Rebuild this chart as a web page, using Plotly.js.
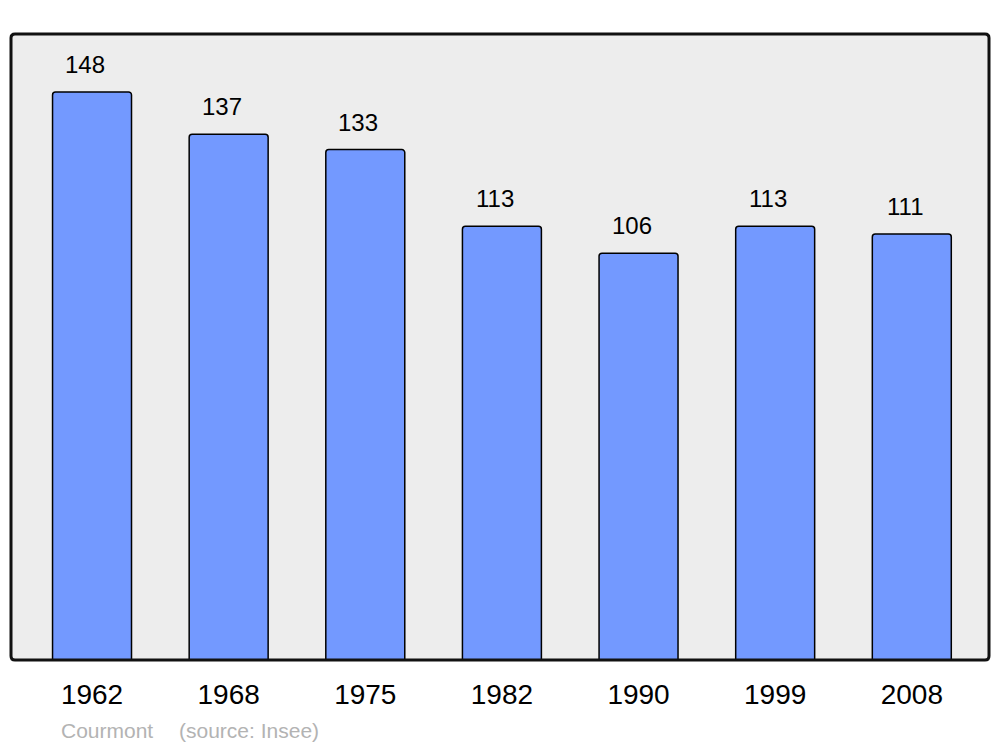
<!DOCTYPE html>
<html><head><meta charset="utf-8">
<script src="https://cdn.plot.ly/plotly-3.0.1.min.js"></script>
<style>body{margin:0;padding:0;background:#fff}#chart{width:1000px;height:747px}</style>
</head><body><div id="chart"></div>
<script>
const years = ["1962","1968","1975","1982","1990","1999","2008"];
const population = [148,137,133,113,106,113,111];
const caption = "Courmont";
const source = "(source: Insee)";

const W=1000,H=747,L=11,R=11,T=34,B=87;
const pw=W-L-R, ph=H-T-B;
const idx = years.map((_,i)=>i);
const rx=4/pw, ry=4/ph;
const framePath = `M ${rx},0 L ${1-rx},0 Q 1,0 1,${ry} L 1,${1-ry} Q 1,1 ${1-rx},1 L ${rx},1 Q 0,1 0,${1-ry} L 0,${ry} Q 0,0 ${rx},0 Z`;

const ann = population.map((v,i)=>({x:i,y:v,xref:'x',yref:'y',text:String(v),showarrow:false,
  yanchor:'bottom',yshift:12,xshift:-7,font:{family:'Liberation Sans, Arial, sans-serif',size:24,color:'#000'}}));
ann.push({x:(59-L)/pw,y:-(737-660)/ph,xref:'paper',yref:'paper',xanchor:'left',yanchor:'middle',yshift:7,
  text:caption,showarrow:false,font:{family:'Liberation Sans, Arial, sans-serif',size:21,color:'#b3b3b3'}});
ann.push({x:(177-L)/pw,y:-(737-660)/ph,xref:'paper',yref:'paper',xanchor:'left',yanchor:'middle',yshift:7,
  text:source,showarrow:false,font:{family:'Liberation Sans, Arial, sans-serif',size:21,color:'#b3b3b3'}});

Plotly.newPlot('chart',[{
  type:'bar',x:idx,y:population,width:0.578,
  marker:{color:'#7399ff',line:{color:'#000',width:1.5},cornerradius:3},
  hoverinfo:'none'
}],{
  width:W,height:H,margin:{l:L,r:R,t:T,b:B,pad:0},
  paper_bgcolor:'#fff',plot_bgcolor:'#ededed',
  showlegend:false,
  xaxis:{range:[-0.593,6.565],tickvals:idx,ticktext:years,showgrid:false,zeroline:false,
    ticks:'',showline:false,tickfont:{family:'Liberation Sans, Arial, sans-serif',size:28,color:'#000'},ticklabelstandoff:15},
  yaxis:{range:[0,163.1],showgrid:false,zeroline:false,showticklabels:false,ticks:'',showline:false},
  shapes:[{type:'path',xref:'paper',yref:'paper',path:framePath,line:{color:'#111',width:3},layer:'above'}],
  annotations:ann
},{staticPlot:true});
</script></body></html>
